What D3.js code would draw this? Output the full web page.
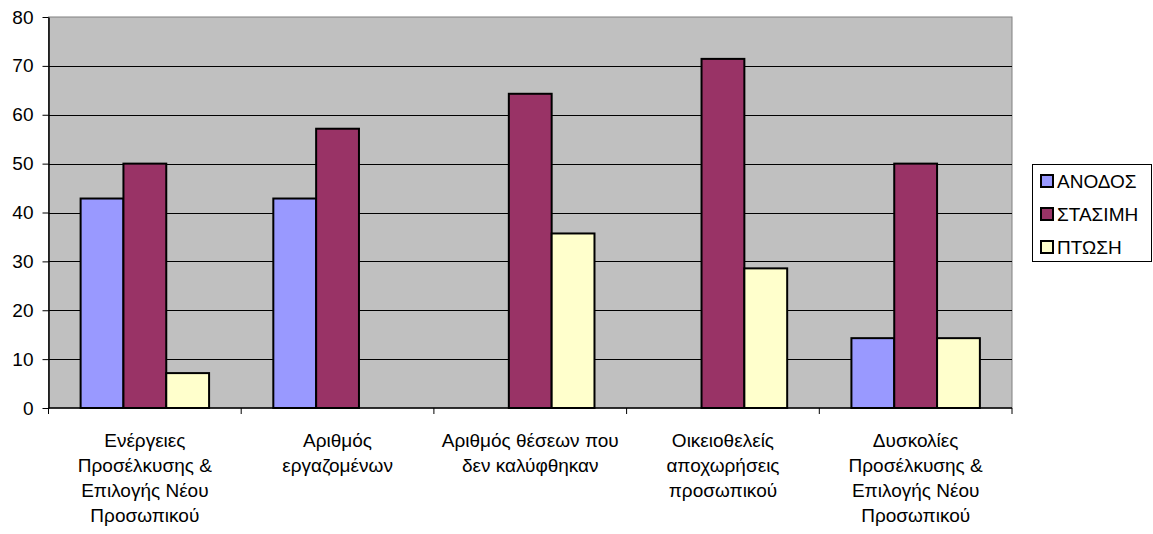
<!DOCTYPE html>
<html><head><meta charset="utf-8">
<script src="https://cdn.jsdelivr.net/npm/d3@7"></script>
<style>body{margin:0;background:#fff}svg{display:block}text{font-family:"Liberation Sans",Arial,sans-serif;}</style>
</head><body>
<svg id="c" width="1153" height="534"></svg>
<script>
const categories = [
  ["Ενέργειες","Προσέλκυσης &","Επιλογής Νέου","Προσωπικού"],
  ["Αριθμός","εργαζομένων"],
  ["Αριθμός θέσεων που","δεν καλύφθηκαν"],
  ["Οικειοθελείς","αποχωρήσεις","προσωπικού"],
  ["Δυσκολίες","Προσέλκυσης &","Επιλογής Νέου","Προσωπικού"]
];
const seriesNames = ["ΑΝΟΔΟΣ","ΣΤΑΣΙΜΗ","ΠΤΩΣΗ"];
const anodos   = [42.86, 42.86, 0, 0, 14.29];
const stasimi  = [50, 57.14, 64.29, 71.43, 50];
const ptosi    = [7.14, 0, 35.71, 28.57, 14.29];
const yTicks = [0,10,20,30,40,50,60,70,80];
const colors = ["#9999FF","#993366","#FFFFCC"];

const series = [anodos, stasimi, ptosi];
const FS = 19;
const svg = d3.select("#c");
const L = 48.5, R = 1012, T = 17, B = 408;
const x = d3.scaleBand().domain(d3.range(categories.length)).range([L, R]).paddingInner(0).paddingOuter(0);
const y = d3.scaleLinear().domain([0, 80]).range([B, T]);
const bw = x.bandwidth() / 4.5;

svg.append("rect").attr("x", L).attr("y", T).attr("width", R - L).attr("height", B - T)
  .attr("fill", "#C0C0C0").attr("stroke", "#808080").attr("stroke-width", 1);

// gridlines
svg.append("g").selectAll("line").data(yTicks.filter(d => d > 0 && d < 80)).join("line")
  .attr("x1", L).attr("x2", R).attr("y1", d => Math.round(y(d)) + 0.5).attr("y2", d => Math.round(y(d)) + 0.5)
  .attr("stroke", "#000").attr("stroke-width", 1);

// y axis
const ya = svg.append("g").attr("transform", `translate(${L},0)`)
  .call(d3.axisLeft(y).tickValues(yTicks).tickSize(6).tickPadding(9).tickSizeOuter(0));
ya.select(".domain").attr("stroke", "#000").attr("stroke-width", 1.5);
ya.selectAll(".tick line").attr("stroke", "#000");
ya.selectAll("text").attr("font-size", FS).attr("fill", "#000").attr("font-family", "Liberation Sans, Arial, sans-serif");

// x axis line and ticks
svg.append("line").attr("x1", L).attr("x2", R).attr("y1", B).attr("y2", B).attr("stroke", "#000").attr("stroke-width", 1.5);
svg.append("g").selectAll("line").data(d3.range(categories.length + 1)).join("line")
  .attr("x1", i => (i < categories.length ? x(i) : R)).attr("x2", i => (i < categories.length ? x(i) : R))
  .attr("y1", B).attr("y2", B + 6).attr("stroke", "#000");

// bars
series.forEach((vals, s) => {
  svg.append("g").selectAll("rect").data(vals.map((v, i) => ({v, i}))).join("rect")
    .attr("x", d => x(d.i) + bw * (0.75 + s))
    .attr("y", d => y(d.v))
    .attr("width", bw)
    .attr("height", d => B - y(d.v))
    .attr("fill", colors[s]).attr("stroke", "#000").attr("stroke-width", 2)
    .attr("display", d => d.v > 0 ? null : "none");
});

// category labels
const cl = svg.append("g");
categories.forEach((lines, i) => {
  const t = cl.append("text").attr("text-anchor", "middle").attr("font-size", FS).attr("fill", "#000");
  lines.forEach((ln, k) => {
    t.append("tspan").attr("x", x(i) + x.bandwidth() / 2).attr("y", 447 + k * 25).text(ln);
  });
});

// legend
const lg = svg.append("g");
lg.append("rect").attr("x", 1032.5).attr("y", 164.5).attr("width", 119).attr("height", 97)
  .attr("fill", "#fff").attr("stroke", "#000").attr("stroke-width", 1);
seriesNames.forEach((n, k) => {
  const cy = 181 + k * 33;
  lg.append("rect").attr("x", 1041).attr("y", cy - 6).attr("width", 12).attr("height", 12)
    .attr("fill", colors[k]).attr("stroke", "#000").attr("stroke-width", 2);
  lg.append("text").attr("x", 1057).attr("y", cy + 7).attr("font-size", FS).attr("fill", "#000").text(n);
});
</script>
</body></html>
